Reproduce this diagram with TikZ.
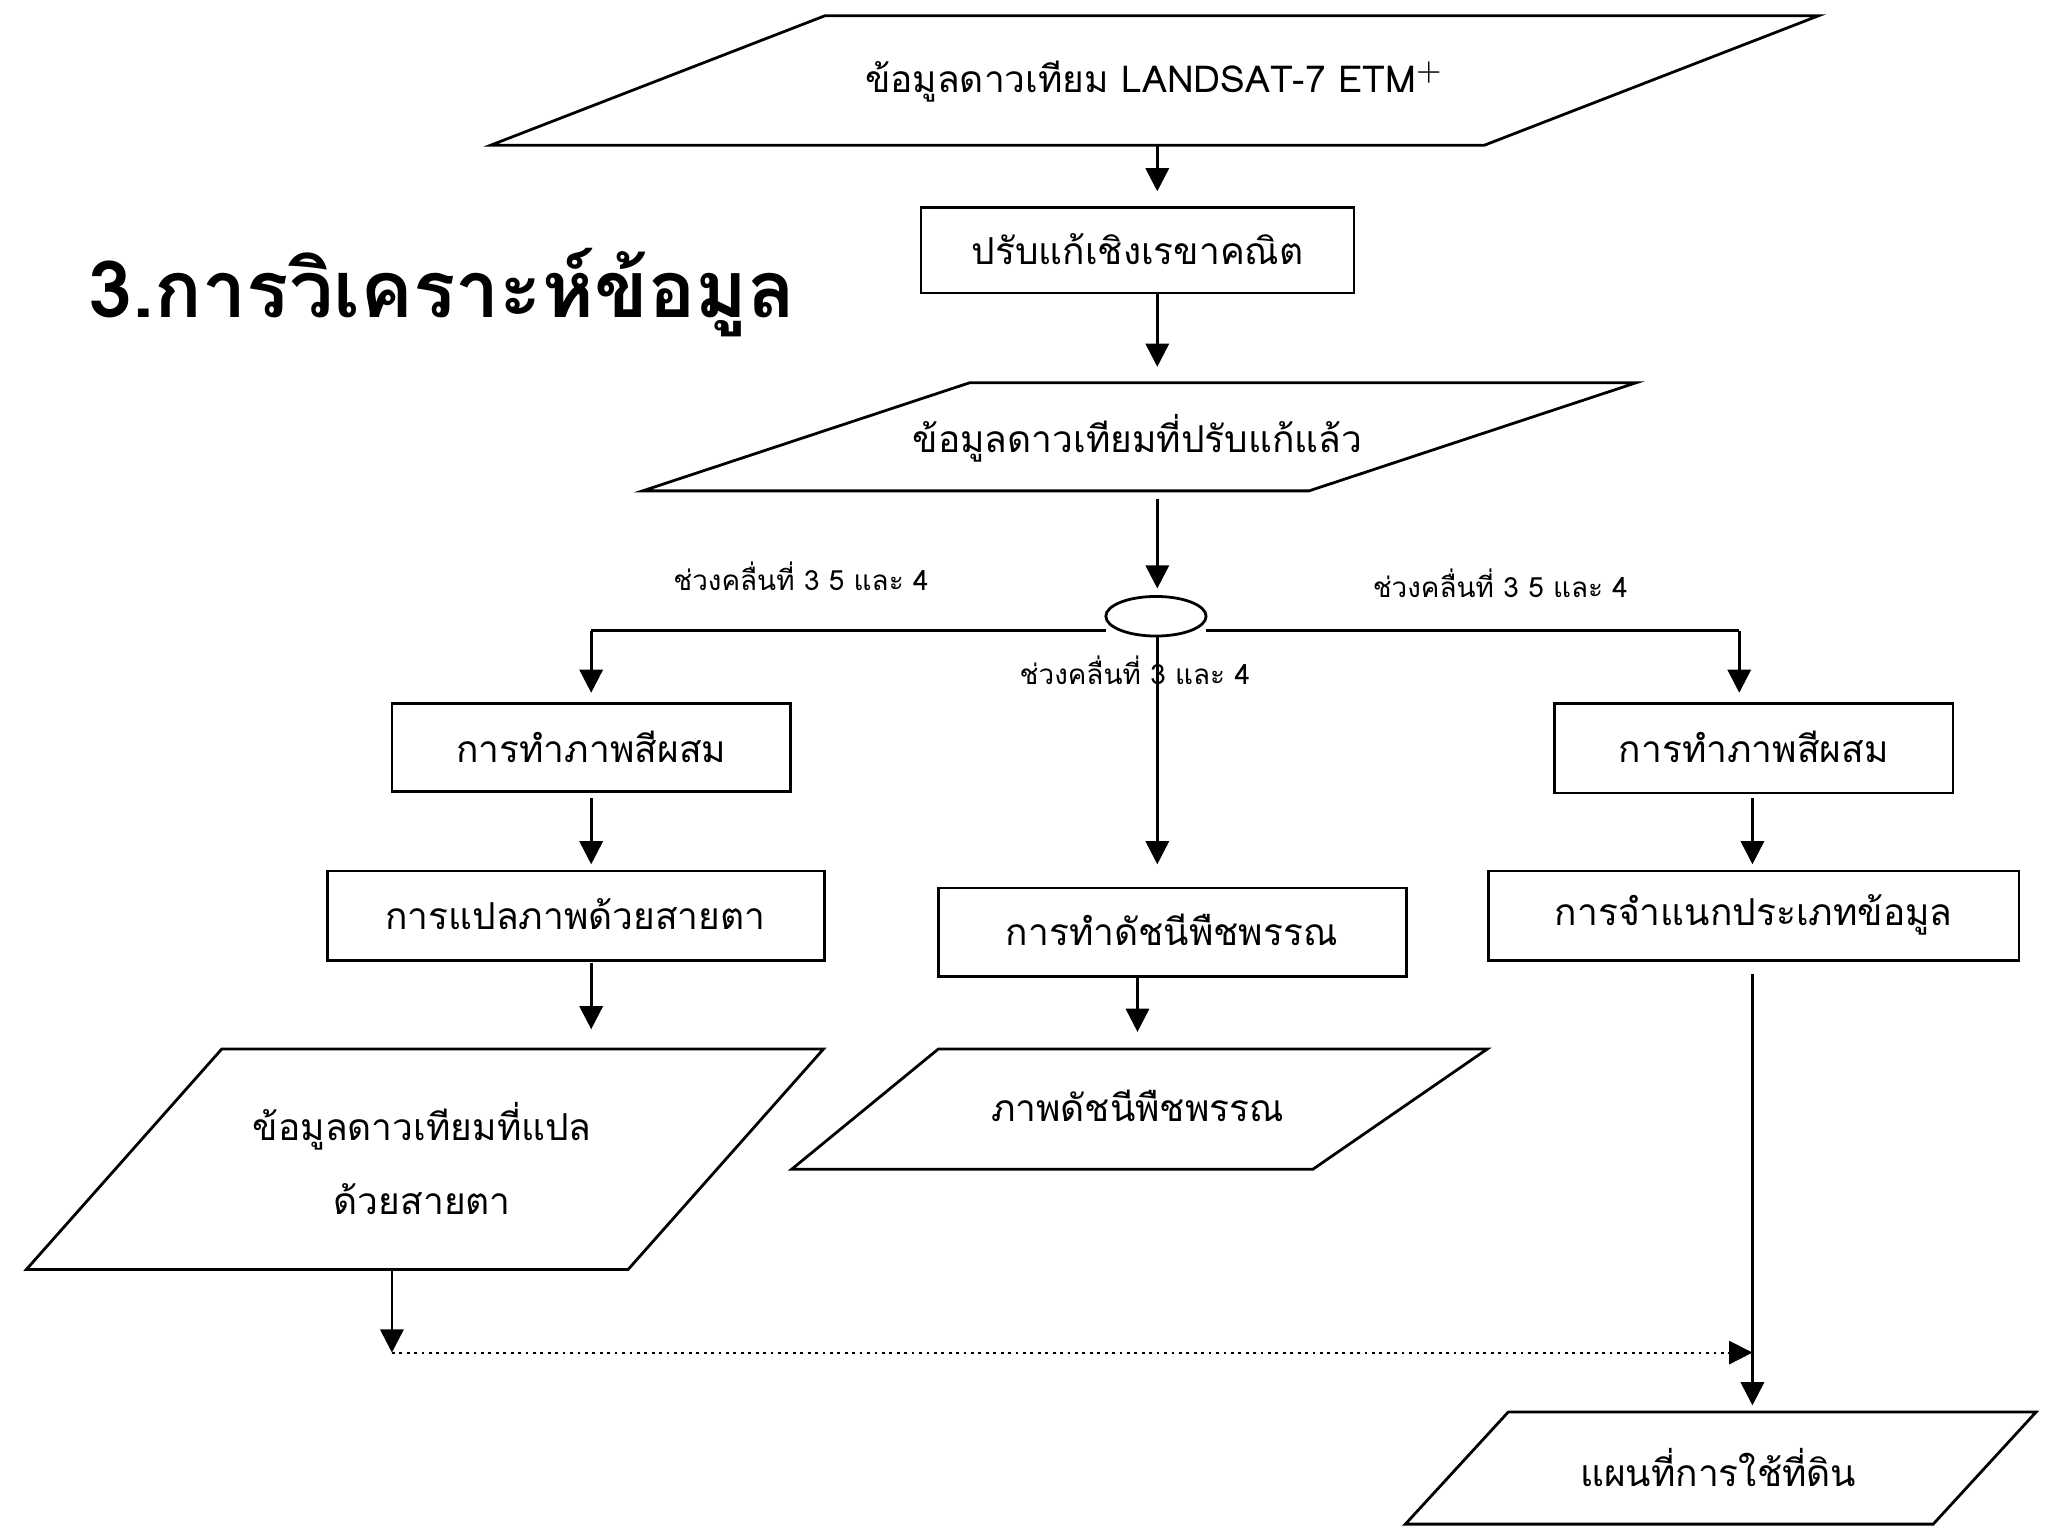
\documentclass[tikz,border=0pt]{standalone}
\usepackage{fontspec}
\newfontfamily\thai[Script=Thai]{Loma}
\usetikzlibrary{arrows.meta}
\begin{document}
\begin{tikzpicture}[x=0.01cm,y=-0.01cm,
  shp/.style={draw=black,line width=0.6pt},
  txt/.style={font=\thai\fontsize{8}{10}\selectfont,align=center},
  lbl/.style={font=\thai\fontsize{6}{8}\selectfont},
  arr/.style={-{Triangle[length=5pt,width=5pt]},line width=0.6pt}]
\useasboundingbox[fill=white] (0,0) rectangle (1552,1164);
% title
\node[anchor=west,font=\thai\bfseries\fontsize{17}{20}\selectfont] (title) at (55,222) {3.การวิเคราะห์ข้อมูล};
% top parallelogram
\draw[shp] (625,12) -- (1378,12) -- (1125,110) -- (372,110) -- cycle;
\node[txt] (p1) at (875,62) {ข้อมูลดาวเทียม LANDSAT-7 ETM$^{+}$};
\coordinate (p1b) at (877,110);
\draw[shp] (698,157) rectangle (1026,222);
\node[txt] (b1) at (862,189) {ปรับแก้เชิงเรขาคณิต};
\coordinate (b1t) at (877,145); \coordinate (b1b) at (877,222);
\draw[shp] (735,290) -- (1240,290) -- (992,372) -- (487,372) -- cycle;
\node[txt] (p2) at (862,332) {ข้อมูลดาวเทียมที่ปรับแก้แล้ว};
\coordinate (p2t) at (877,278); \coordinate (p2b) at (877,378);
\draw[shp] (876,467) ellipse [x radius=38, y radius=15];
\coordinate (et) at (877,446); \coordinate (eb) at (877,482);
\coordinate (jl) at (448,478); \coordinate (jr) at (1318,478);
\draw[shp] (jl) -- (838,478); \draw[shp] (914,478) -- (jr);
\node[lbl] (la) at (607,437) {ช่วงคลื่นที่ 3 5 และ 4};
\node[lbl] (lb) at (1137,442) {ช่วงคลื่นที่ 3 5 และ 4};
\node[lbl] (lc) at (860,508) {ช่วงคลื่นที่ 3 และ 4};
% left column
\draw[shp] (297,533) rectangle (599,600);
\node[txt] (l1) at (448,566) {การทำภาพสีผสม};
\draw[shp] (248,660) rectangle (625,728);
\node[txt] (l2) at (436,693) {การแปลภาพด้วยสายตา};
\draw[shp] (168,795) -- (624,795) -- (476,962) -- (20,962) -- cycle;
\node[txt,align=center] (l3) at (320,878) {ข้อมูลดาวเทียมที่แปล\\[6pt]ด้วยสายตา};
% centre column
\draw[shp] (711,673) rectangle (1066,740);
\node[txt] (c1) at (888,705) {การทำดัชนีพืชพรรณ};
\draw[shp] (711,795) -- (1127,795) -- (995,886) -- (600,886) -- cycle;
\node[txt] (c2) at (862,838) {ภาพดัชนีพืชพรรณ};
% right column
\draw[shp] (1178,533) rectangle (1480,601);
\node[txt] (r1) at (1329,566) {การทำภาพสีผสม};
\draw[shp] (1128,660) rectangle (1530,728);
\node[txt] (r2) at (1329,693) {การจำแนกประเภทข้อมูล};
\draw[shp] (1143,1070) -- (1543,1070) -- (1465,1155) -- (1065,1155) -- cycle;
\node[txt] (r3) at (1302,1112) {แผนที่การใช้ที่ดิน};
% arrows
\draw[arr] (p1b) -- (b1t);
\draw[arr] (b1b) -- (p2t);
\draw[arr] (p2b) -- (et);
\draw[arr] (eb) -- (877,655);
\draw[arr] (jl) -- (448,525);
\draw[arr] (jr) -- (1318,525);
\draw[arr] (448,605) -- (448,655);
\draw[arr] (448,730) -- (448,780);
\draw[arr] (862,740) -- (862,782);
\draw[arr] (1328,605) -- (1328,655);
\coordinate (dl) at (297,1025); \coordinate (dr) at (1328,1025);
\draw[arr] (297,962) -- (dl);
\draw[arr,densely dotted,line width=0.4pt] (dl) -- (dr);
\draw[arr] (1328,738) -- (1328,1065);
\end{tikzpicture}
\end{document}
